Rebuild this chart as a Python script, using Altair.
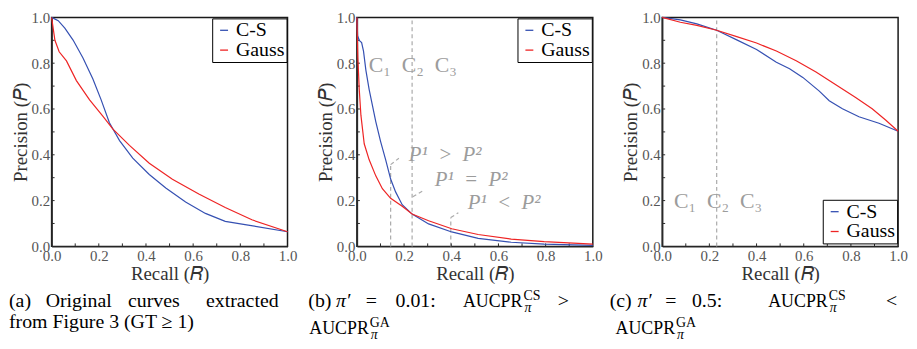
import altair as alt
import pandas as pd

# ---------------- data ----------------
# (a) original curves
a_cs_r = [0.0, 0.028, 0.056, 0.091, 0.133, 0.175, 0.21, 0.245, 0.288, 0.344, 0.414, 0.484, 0.568, 0.652, 0.736, 0.82, 1.0]
a_cs_p = [1.0, 0.986, 0.953, 0.901, 0.823, 0.731, 0.64, 0.54, 0.462, 0.385, 0.314, 0.255, 0.194, 0.144, 0.109, 0.095, 0.064]
a_ga_r = [0.0, 0.007, 0.014, 0.032, 0.063, 0.105, 0.161, 0.217, 0.26, 0.33, 0.414, 0.512, 0.624, 0.736, 0.849, 1.0]
a_ga_p = [1.0, 0.95, 0.9, 0.85, 0.81, 0.724, 0.64, 0.569, 0.512, 0.441, 0.363, 0.293, 0.229, 0.17, 0.116, 0.064]

# (b) pi' = 0.01
b_cs_r = [0.0, 0.003, 0.01, 0.02, 0.028, 0.038, 0.052, 0.066, 0.08, 0.1, 0.122, 0.143, 0.164, 0.192, 0.234, 0.304, 0.402, 0.514, 0.654, 0.794, 1.0]
b_cs_p = [1.0, 0.92, 0.9, 0.89, 0.853, 0.77, 0.685, 0.615, 0.545, 0.46, 0.378, 0.294, 0.238, 0.182, 0.141, 0.098, 0.063, 0.035, 0.018, 0.01, 0.004]
b_ga_r = [0.0, 0.004, 0.01, 0.017, 0.031, 0.052, 0.08, 0.108, 0.143, 0.192, 0.234, 0.304, 0.402, 0.514, 0.654, 0.794, 1.0]
b_ga_p = [1.0, 0.825, 0.685, 0.573, 0.448, 0.378, 0.308, 0.252, 0.21, 0.175, 0.141, 0.112, 0.077, 0.052, 0.032, 0.021, 0.01]

# (c) pi' = 0.5
c_cs_r = [0.0, 0.077, 0.147, 0.231, 0.316, 0.4, 0.484, 0.54, 0.596, 0.666, 0.708, 0.764, 0.834, 0.919, 1.0]
c_cs_p = [1.0, 0.989, 0.972, 0.944, 0.902, 0.86, 0.804, 0.776, 0.738, 0.678, 0.636, 0.601, 0.566, 0.538, 0.503]
c_ga_r = [0.0, 0.077, 0.147, 0.231, 0.316, 0.4, 0.484, 0.568, 0.652, 0.736, 0.82, 0.89, 0.947, 1.0]
c_ga_p = [1.0, 0.979, 0.965, 0.944, 0.916, 0.888, 0.853, 0.811, 0.762, 0.706, 0.65, 0.601, 0.552, 0.503]

models = ["C-S", "Gauss"]
axis_values = [0.0, 0.2, 0.4, 0.6, 0.8, 1.0]
minor_ticks = [0.1, 0.2, 0.3, 0.4, 0.5, 0.6, 0.7, 0.8, 0.9]

# dashed guide lines (R, P) -> (R2, P2)
b_guides_r = [0.234, 0.143, 0.143, 0.237, 0.398, 0.398]
b_guides_p = [0.0, 0.0, 0.357, 0.217, 0.0, 0.126]
b_guides_r2 = [0.234, 0.143, 0.178, 0.283, 0.398, 0.43]
b_guides_p2 = [1.0, 0.357, 0.385, 0.245, 0.126, 0.147]
b_cs_note = ["C\u2081\u2002C\u2082\u2002C\u2083"]
b_cs_note_r = [0.05]
b_cs_note_p = [0.79]
b_p_notes = ["P\u00b9\u2002>\u2002P\u00b2", "P\u00b9\u2002=\u2002P\u00b2", "P\u00b9\u2002<\u2002P\u00b2"]
b_p_notes_r = [0.22, 0.33, 0.47]
b_p_notes_p = [0.40, 0.29, 0.19]

c_guides_r = [0.231]
c_guides_p = [0.0]
c_guides_r2 = [0.231]
c_guides_p2 = [1.0]
c_cs_note = ["C\u2081\u2002C\u2082\u2002C\u2083"]
c_cs_note_r = [0.05]
c_cs_note_p = [0.196]

# ---------------- style ----------------
W, H = 238, 231
SERIF = "Liberation Serif"
CAP = "Liberation Serif"
BLUE, RED = "#3550b2", "#ee2424"
GRAY_TXT = "#9c9c9c"
GRAY_LINE = "#aaaaaa"
AX = "#2a2a2a"

xscale = alt.Scale(domain=[0, 1], nice=False, zero=False)
yscale = alt.Scale(domain=[0, 1], nice=False, zero=False)
axis_style = dict(labelFont=SERIF, labelFontSize=15, labelColor="#555555", labelPadding=2,
                  titleFont=SERIF, titleFontSize=19, titleFontWeight="normal",
                  titleColor="#333333", titlePadding=1, labelFlush=False)
x_axis = alt.Axis(values=axis_values, format=".1f", title="Recall (\U0001D445)", **axis_style)
y_axis = alt.Axis(values=axis_values, format=".1f", title="Precision (\U0001D443)", **axis_style)


def X():
    return alt.X("R:Q", scale=xscale, axis=x_axis)


def Y():
    return alt.Y("P:Q", scale=yscale, axis=y_axis)


dummy = pd.DataFrame({"d": [0]})


def curves_df(cs_r, cs_p, ga_r, ga_p):
    rows = []
    for i, (r, p) in enumerate(zip(cs_r, cs_p)):
        rows.append({"R": r, "P": p, "model": models[0], "i": i})
    for i, (r, p) in enumerate(zip(ga_r, ga_p)):
        rows.append({"R": r, "P": p, "model": models[1], "i": i})
    return pd.DataFrame(rows)


def base_layers(df, lx, ly):
    lines = alt.Chart(df).mark_line(strokeWidth=1.2).encode(
        x=X(), y=Y(),
        color=alt.Color("model:N",
                        scale=alt.Scale(domain=models, range=[BLUE, RED]),
                        legend=alt.Legend(title=None, orient="none", legendX=lx, legendY=ly,
                                          symbolType="stroke", symbolSize=64, symbolStrokeWidth=1.3,
                                          labelFont=SERIF, labelFontSize=20, labelColor="black",
                                          labelOffset=2, fillColor="white", strokeColor="black",
                                          padding=2, rowPadding=-1, labelLimit=0,
                                          labelExpr="datum.label + '\u00a0\u00a0'")),
        order="i:Q",
    )
    xt = alt.Chart(pd.DataFrame({"R": minor_ticks})).mark_rule(color=AX, strokeWidth=1).encode(
        x=X(), y=alt.value(H), y2=alt.value(H - 3))
    yt = alt.Chart(pd.DataFrame({"P": minor_ticks})).mark_rule(color=AX, strokeWidth=1).encode(
        y=Y(), x=alt.value(0), x2=alt.value(3))
    return [xt, yt, lines]


def guides(r, p, r2, p2):
    df = pd.DataFrame({"R": r, "P": p, "R2": r2, "P2": p2})
    return alt.Chart(df).mark_rule(color=GRAY_LINE, strokeWidth=1.2, strokeDash=[4, 3]).encode(
        x=X(), y=Y(), x2="R2:Q", y2="P2:Q")


def notes(labels, r, p, style="normal", size=22):
    df = pd.DataFrame({"R": r, "P": p, "label": labels})
    return alt.Chart(df).mark_text(align="left", baseline="middle", font=SERIF, fontSize=size,
                                   fontStyle=style, color=GRAY_TXT).encode(
        x=X(), y=Y(), text="label:N")


def cap(text, x, y, size=20, align="left", style="normal"):
    return alt.Chart(dummy).mark_text(text=text, align=align, baseline="alphabetic", font=CAP,
                                      fontSize=size, fontStyle=style, color="black").encode(
        x=alt.value(x), y=alt.value(y))


L1 = H + 61
L2a = H + 82
L2 = H + 88
AUC = 18
AUC_W = 61


def aucpr(x, y, sup):
    return [cap("AUCPR", x, y, size=AUC),
            cap(sup, x + AUC_W, y - 7, size=14),
            cap("\u03c0", x + AUC_W + 1, y + 5, size=14, style="italic")]


# panel (a)
pa_layers = base_layers(curves_df(a_cs_r, a_cs_p, a_ga_r, a_ga_p), 162, 1)
pa_layers += [cap("(a)", -43, L1), cap("Original", -6, L1), cap("curves", 77, L1),
              cap("extracted", 229, L1, align="right"),
              cap("from Figure 3 (GT \u2265 1)", -43, L2a)]
pa = alt.layer(*pa_layers).properties(width=W, height=H)

# panel (b)
pb_layers = base_layers(curves_df(b_cs_r, b_cs_p, b_ga_r, b_ga_p), 162, 1)
pb_layers = [guides(b_guides_r, b_guides_p, b_guides_r2, b_guides_p2)] + pb_layers
pb_layers += [notes(b_cs_note, b_cs_note_r, b_cs_note_p),
              notes(b_p_notes, b_p_notes_r, b_p_notes_p, style="italic", size=21)]
pb_layers += [cap("(b)", -49, L1), cap("\u03c0\u2032", -21, L1, style="italic"), cap("=", 9, L1),
              cap("0.01:", 39, L1), cap(">", 214, L1, align="right")]
pb_layers += aucpr(107, L1, "CS") + aucpr(-48, L2, "GA")
pb = alt.layer(*pb_layers).properties(width=W, height=H)

# panel (c)
pc_layers = base_layers(curves_df(c_cs_r, c_cs_p, c_ga_r, c_ga_p), 162, H - 47)
pc_layers = [guides(c_guides_r, c_guides_p, c_guides_r2, c_guides_p2)] + pc_layers
pc_layers += [notes(c_cs_note, c_cs_note_r, c_cs_note_p)]
pc_layers += [cap("(c)", -53, L1), cap("\u03c0\u2032", -25, L1, style="italic"), cap("=", 3, L1),
              cap("0.5:", 30, L1), cap("<", 237, L1, align="right")]
pc_layers += aucpr(107, L1, "CS") + aucpr(-47, L2, "GA")
pc = alt.layer(*pc_layers).properties(width=W, height=H)

chart = alt.hconcat(pa, pb, pc, spacing=70, bounds="flush").resolve_scale(
    color="independent").resolve_legend(color="independent").properties(
    padding={"left": 0, "top": 0, "right": 0, "bottom": 0}
).configure(font=SERIF).configure_view(stroke="#1a1a1a", strokeWidth=1.5).configure_axis(
    domainColor=AX, domainWidth=1.5, ticks=False, grid=False,
    labelFont=SERIF, titleFont=SERIF,
)

chart.save("out.html", embed_options={"renderer": "svg", "actions": False})
